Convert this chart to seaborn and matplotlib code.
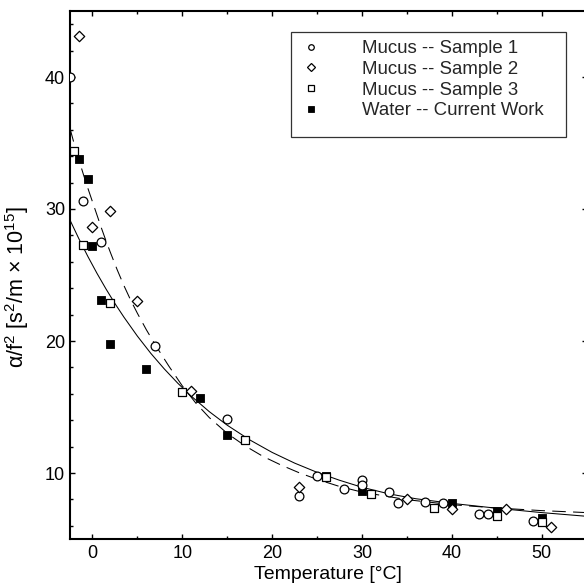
import numpy as np
import pandas as pd
import matplotlib
matplotlib.use("Agg")
import matplotlib.pyplot as plt
from matplotlib.lines import Line2D
from matplotlib.patches import Rectangle
from matplotlib.ticker import MultipleLocator
import seaborn as sns

# ---------------- data ----------------
s1_T = [-2.5, -1, 1, 7, 15, 23, 25, 28, 30, 30, 33, 34, 37, 39, 43, 44, 49]
s1_y = [40.0, 30.6, 27.5, 19.6, 14.1, 8.26, 9.8, 8.77, 9.5, 9.1, 8.56, 7.7, 7.78, 7.7, 6.9, 6.9, 6.39]

s2_T = [-1.5, 0, 2, 5, 11, 23, 35, 40, 46, 51]
s2_y = [43.1, 28.6, 29.85, 23.0, 16.2, 8.96, 8.03, 7.27, 7.3, 5.9]

s3_T = [-2, -1, 2, 10, 17, 26, 31, 38, 45, 50]
s3_y = [34.4, 27.3, 22.9, 16.1, 12.5, 9.67, 8.39, 7.32, 6.77, 6.29]

w_T = [-1.5, -0.5, 0, 1, 2, 6, 12, 15, 26, 30, 40, 45, 50]
w_y = [33.8, 32.3, 27.2, 23.1, 19.8, 17.9, 15.66, 12.9, 9.8, 8.66, 7.7, 7.15, 6.57]

# fitted curves
solid_T = [-2.5, -1.5, -0.5, 0.5, 1.5, 2.5, 3.5, 5, 6.5, 8, 9.5, 11, 13, 15, 17.5,
           20, 22.5, 25, 27.5, 30, 33, 36, 40, 45, 50, 55]
solid_y = [29.16, 27.73, 26.39, 25.13, 23.95, 22.84, 21.81, 20.37, 19.06, 17.88, 16.80,
           15.82, 14.65, 13.62, 12.51, 11.56, 10.75, 10.05, 9.45, 8.92, 8.42, 8.05,
           7.70, 7.33, 7.00, 6.72]

dash_T = [-2.5, -2, -1.5, -1, -0.5, 0, 0.5, 1, 1.5, 2, 2.75, 3.5, 4.25, 5, 6, 7, 8.5,
          10, 11.5, 13, 15, 17, 19, 21, 23, 25, 27.5, 30, 35, 40, 45, 50, 55]
dash_y = [36.1, 34.85, 33.7, 32.6, 31.55, 30.55, 29.55, 28.55, 27.6, 26.7, 25.4, 24.2,
          23.1, 22.1, 20.85, 19.7, 18.1, 16.6, 15.3, 14.2, 13.0, 12.05, 11.25, 10.6,
          10.02, 9.52, 8.98, 8.55, 7.98, 7.6, 7.35, 7.15, 7.0]

labels = ["Mucus -- Sample 1", "Mucus -- Sample 2", "Mucus -- Sample 3", "Water -- Current Work"]
x_ticks = [0, 10, 20, 30, 40, 50]
y_ticks = [10, 20, 30, 40]

# ---------------- style ----------------
sns.set_style("ticks")
plt.rcParams["font.family"] = ["Liberation Sans", "DejaVu Sans"]
plt.rcParams["mathtext.fontset"] = "custom"
plt.rcParams["mathtext.rm"] = "Liberation Sans"
plt.rcParams["mathtext.it"] = "Liberation Sans:italic"
plt.rcParams["mathtext.bf"] = "Liberation Sans:bold"

W, H = 584, 585
fig = plt.figure(figsize=(W / 100, H / 100), dpi=100)
fig.patch.set_facecolor("white")
ax = fig.add_axes([70 / W, 46 / H, (586.6 - 70) / W, 528 / H])
ax.set_facecolor("white")

# ---------------- curves ----------------
sns.lineplot(x=solid_T, y=solid_y, ax=ax, color="black", lw=0.75,
             estimator=None, sort=False, zorder=2)
sns.lineplot(x=dash_T, y=dash_y, ax=ax, color="black", lw=0.75,
             estimator=None, sort=False, zorder=2, linestyle=(0, (13, 7)))

# ---------------- markers ----------------
sns.scatterplot(x=w_T, y=w_y, ax=ax, marker="s", s=36, color="black",
                edgecolor="black", linewidth=0.6, zorder=3)
sns.scatterplot(x=s1_T, y=s1_y, ax=ax, marker="o", s=40, color="white",
                edgecolor="black", linewidth=0.9, zorder=4)
sns.scatterplot(x=s2_T, y=s2_y, ax=ax, marker="D", s=28, color="white",
                edgecolor="black", linewidth=0.9, zorder=4)
sns.scatterplot(x=s3_T, y=s3_y, ax=ax, marker="s", s=36, color="white",
                edgecolor="black", linewidth=0.9, zorder=4)

# ---------------- axes ----------------
ax.set_xlim(-2.5, 55)
ax.set_ylim(5, 45)
ax.set_xticks(x_ticks)
ax.set_yticks(y_ticks)
ax.xaxis.set_minor_locator(MultipleLocator(5))
ax.yaxis.set_minor_locator(MultipleLocator(2))
ax.tick_params(which="both", direction="in", top=True, right=True, color="black",
               labelsize=13, labelcolor="black")
ax.tick_params(which="major", length=3.8, width=1.0)
ax.tick_params(which="minor", length=2.2, width=1.0)
ax.tick_params(axis="x", which="major", pad=4)
ax.tick_params(axis="y", which="major", pad=3.5)
for sp in ax.spines.values():
    sp.set_linewidth(1.5)
    sp.set_color("black")
    sp.set_visible(True)

ax.set_xlabel("Temperature [°C]", fontsize=14, color="black")
ax.set_ylabel("α/f$^2$ [s$^2$/m × 10$^{15}$]", fontsize=15.5, color="black")
ax.xaxis.set_label_coords(0.5, -0.051)
ax.yaxis.set_label_coords(-0.075, 0.477)

# ---------------- legend ----------------
handles = [
    Line2D([], [], ls="none", marker="o", ms=4.0, mfc="white", mec="black", mew=0.9),
    Line2D([], [], ls="none", marker="D", ms=3.7, mfc="white", mec="black", mew=0.9),
    Line2D([], [], ls="none", marker="s", ms=4.0, mfc="white", mec="black", mew=0.9),
    Line2D([], [], ls="none", marker="s", ms=4.0, mfc="black", mec="black", mew=0.6),
]
x_anchor = (292.5 - 70) / 516.6
y_anchor = (539 - 40.0) / 528
ax.legend(handles, labels, loc="upper left", bbox_to_anchor=(x_anchor, y_anchor),
          bbox_transform=ax.transAxes, frameon=False, borderpad=0, borderaxespad=0,
          handlelength=2.0, handletextpad=1.73, labelspacing=0.2, fontsize=13.4)
x0 = (291 - 70) / 516.6
x1 = (566 - 70) / 516.6
y1 = (539 - 32) / 528
y0 = (539 - 137) / 528
ax.add_patch(Rectangle((x0, y0), x1 - x0, y1 - y0, transform=ax.transAxes,
                       fill=False, edgecolor="#333333", lw=0.9, zorder=5))

fig.savefig("out.png", dpi=100)
